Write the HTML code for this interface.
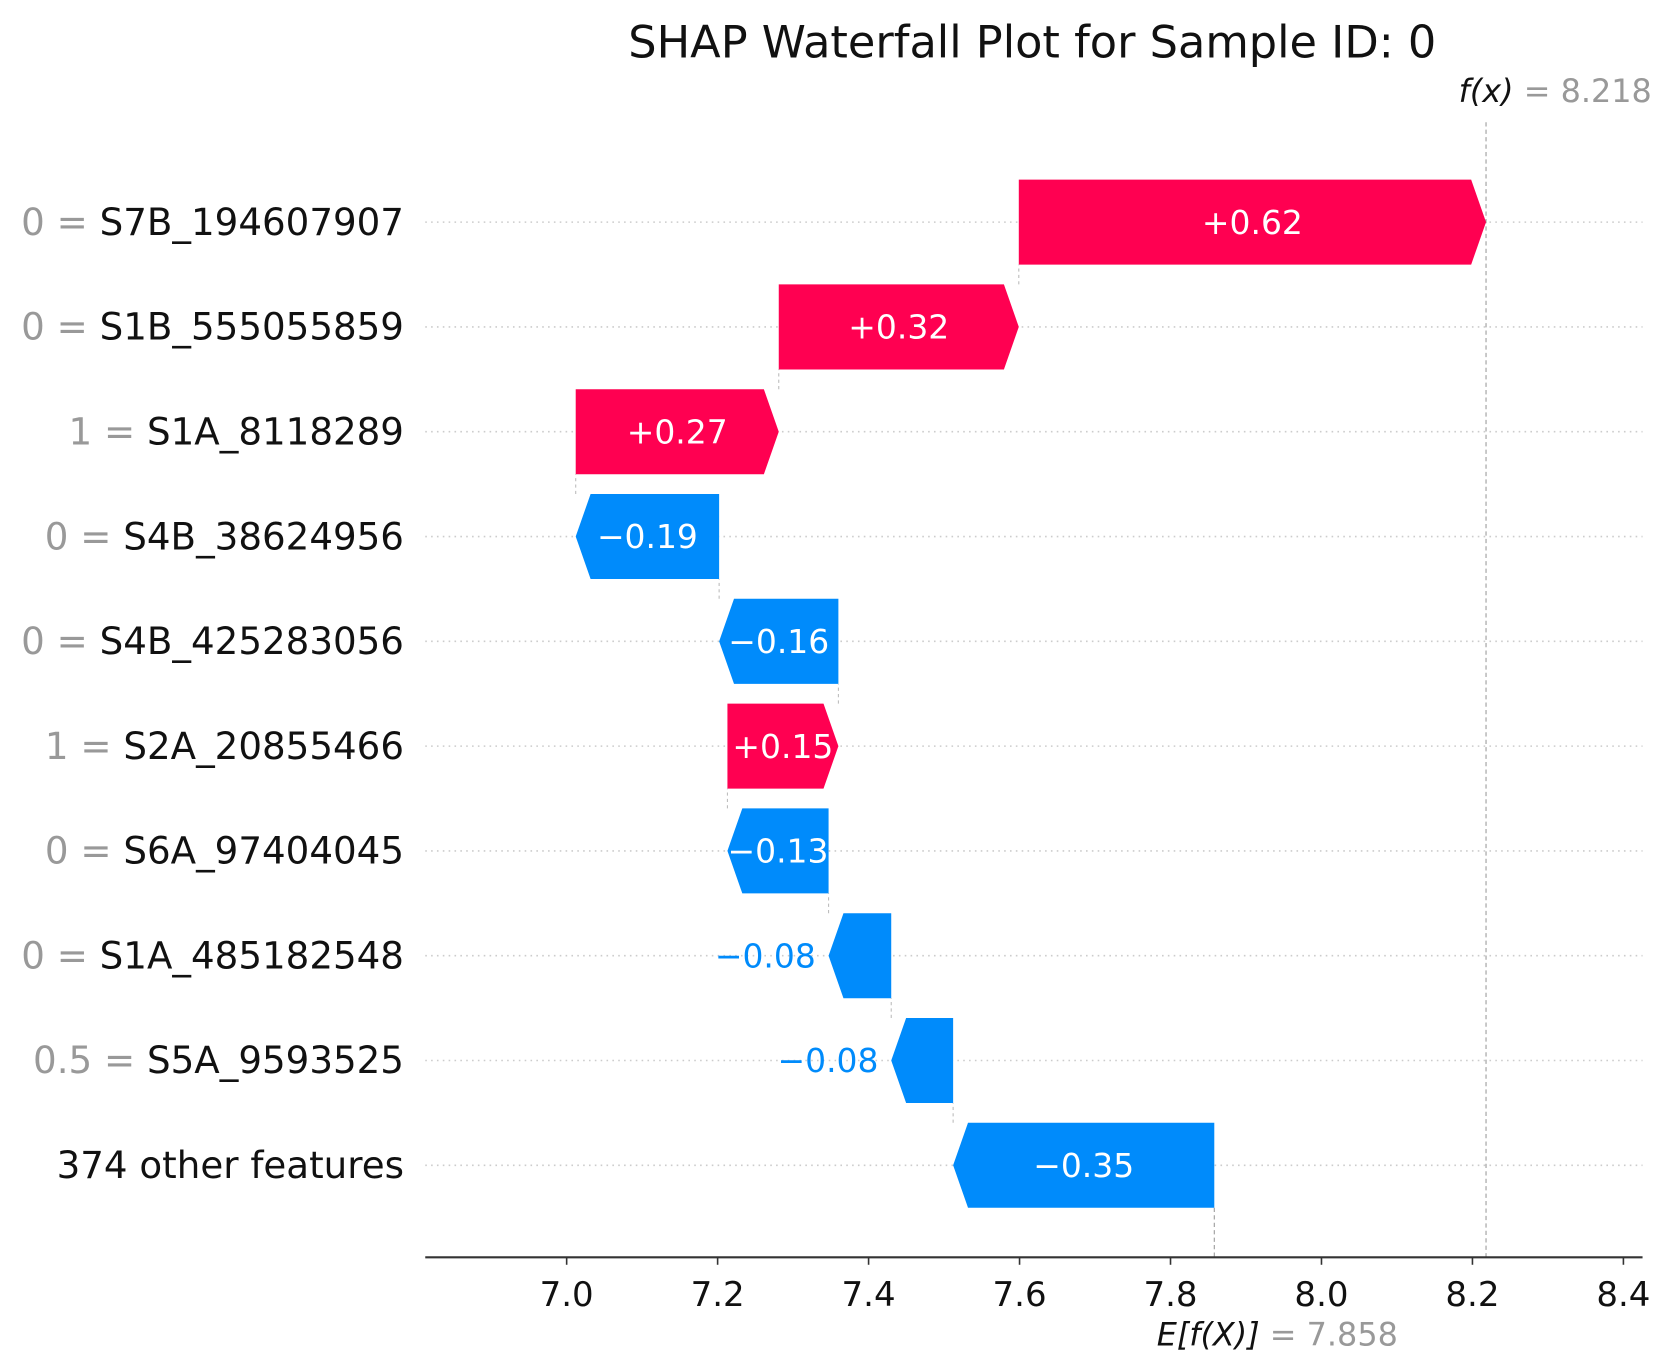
<!DOCTYPE html>
<html><head><meta charset="utf-8"><style>
html,body{margin:0;padding:0;background:#fff;}
svg{display:block;font-family:"DejaVu Sans","Liberation Sans",sans-serif;}
</style></head><body>
<svg id="chart" width="1667" height="1370" viewBox="0 0 1568 1289" preserveAspectRatio="none" xmlns="http://www.w3.org/2000/svg">
<text x="971" y="54" font-size="42" text-anchor="middle" fill="#111">SHAP Waterfall Plot for Sample ID: 0</text>
<g id="g"></g>
</svg>
<script>
const featureValues = ["0","0","1","0","0","1","0","0","0.5",""];
const featureNames = ["S7B_194607907","S1B_555055859","S1A_8118289","S4B_38624956","S4B_425283056","S2A_20855466","S6A_97404045","S1A_485182548","S5A_9593525","374 other features"];
const shapValues = [0.619,0.318,0.269,-0.19,-0.158,0.147,-0.134,-0.083,-0.082,-0.346];
const baseValue = 7.858;
const fxValue = 8.218;
const xTicks = [7.0,7.2,7.4,7.6,7.8,8.0,8.2,8.4];

const NS="http://www.w3.org/2000/svg";
const g=document.getElementById('g');
const xs=v=>533+(v-7.0)*710;
const ys=i=>209+i*98.6;
const H=80, axisY=1183;
function mk(tag,attrs,parent){const e=document.createElementNS(NS,tag);for(const k in attrs)e.setAttribute(k,attrs[k]);(parent||g).appendChild(e);return e;}
const RED="#ff0051", BLUE="#008bfb";
for(let i=0;i<featureNames.length;i++){
  const l=mk('line',{x1:400,x2:1545,y1:ys(i),y2:ys(i),stroke:"#ccc","stroke-width":1.5,"stroke-dasharray":"1.5 4"});
  
  
}
const n=shapValues.length;
const start=new Array(n), end=new Array(n);
let cur=baseValue;
for(let i=n-1;i>=0;i--){start[i]=cur;end[i]=cur+shapValues[i];cur=end[i];}
let fl=mk('line',{x1:xs(fxValue),x2:xs(fxValue),y1:115,y2:axisY,stroke:"#999","stroke-width":1,"stroke-dasharray":"4 3"});


let bl=mk('line',{x1:xs(baseValue),x2:xs(baseValue),y1:ys(n-1)+H/2,y2:axisY,stroke:"#999","stroke-width":1,"stroke-dasharray":"4 3"});


for(let i=0;i<n;i++){
  const v=shapValues[i], y=ys(i), x0=xs(start[i]), x1=xs(end[i]);
  const pos=v>0, col=pos?RED:BLUE;
  const len=Math.abs(x1-x0), hw=Math.min(14,len);
  let pts;
  if(pos) pts=[[x0,y-H/2],[x1-hw,y-H/2],[x1,y],[x1-hw,y+H/2],[x0,y+H/2]];
  else pts=[[x0,y-H/2],[x1+hw,y-H/2],[x1,y],[x1+hw,y+H/2],[x0,y+H/2]];
  const p=mk('polygon',{points:pts.map(q=>q.join(',')).join(' '),fill:col});
  
  
  if(i>0){
    const c=mk('line',{x1:x1,x2:x1,y1:y-H/2,y2:ys(i-1)+H/2,stroke:"#bbb","stroke-width":1,"stroke-dasharray":"3 3"});
    
    
  }
  const lbl=(pos?"+":"\u2212")+Math.abs(v).toFixed(2);
  const inside=len>90;
  let t;
  if(inside) t=mk('text',{x:(x0+x1)/2,y:y+11,"font-size":31,"text-anchor":"middle",fill:"#fff"});
  else t=mk('text',{x:Math.min(x0,x1)-12,y:y+11,"font-size":31,"text-anchor":"end",fill:col});
  t.textContent=lbl;
  
  
  const ft=mk('text',{x:380,y:y+12,"font-size":35,"text-anchor":"end",fill:"#111"});
  
  
  if(featureValues[i]!==""){
    const a=mk('tspan',{fill:"#999"},ft);a.textContent=featureValues[i]+" = ";
  }
  const b=mk('tspan',{},ft);b.textContent=featureNames[i];
}
const ax=mk('line',{x1:400,x2:1545,y1:axisY,y2:axisY,stroke:"#333","stroke-width":2});


xTicks.forEach(v=>{
  const tk=mk('line',{x1:xs(v),x2:xs(v),y1:axisY,y2:axisY+7,stroke:"#333","stroke-width":1.5});
  
  
  const tl=mk('text',{x:xs(v),y:axisY+46,"font-size":32,"text-anchor":"middle",fill:"#111"});
  tl.textContent=v.toFixed(1);
  
  
});
const fxl=mk('text',{x:1372,y:96,"font-size":30,fill:"#111"});


const f1=mk('tspan',{"font-style":"italic"},fxl);f1.textContent="f(x)";
const f2=mk('tspan',{fill:"#999"},fxl);f2.textContent=" = "+fxValue.toFixed(3);
const el=mk('text',{x:1088,y:1266,"font-size":30,fill:"#111"});


const e1=mk('tspan',{"font-style":"italic"},el);e1.textContent="E[f(X)]";
const e2=mk('tspan',{fill:"#999"},el);e2.textContent=" = "+baseValue.toFixed(3);
</script>
</body></html>
